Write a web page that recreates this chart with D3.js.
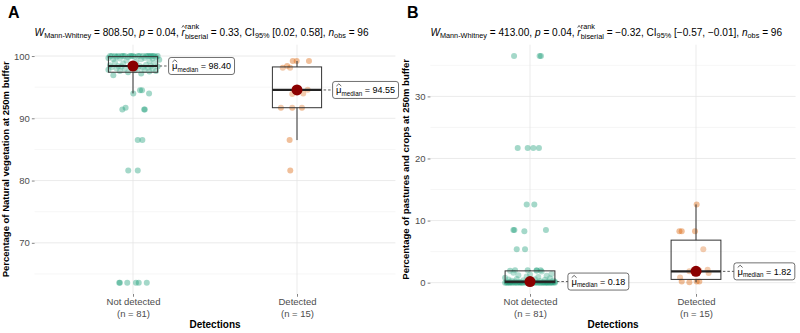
<!DOCTYPE html>
<html><head><meta charset="utf-8">
<script src="https://cdn.jsdelivr.net/npm/d3@7"></script>
<style>
body{margin:0;background:#fff}
text{font-family:"Liberation Sans",Arial,Helvetica,sans-serif;white-space:pre}
</style></head>
<body><svg id="c" width="800" height="333"></svg>
<script>
// ---------------- DATA ----------------
const categories = ["Not detected", "Detected"];
const groupCounts = [81, 15];
const yTicksA = [70, 80, 90, 100];
const yMinorA = [65, 75, 85, 95];
const yTicksB = [0, 10, 20, 30];
const yMinorB = [5, 15, 25, 35];

// Panel A: Percentage of Natural vegetation (Not detected)
const natNotDetected = [63.6,63.6,63.6,63.6,63.6,63.6,81.6,81.6,86.5,86.5,91.4,91.7,91.4,91.4,94.0,94.5,94.5,94.0,
 96.9,97.2,97.4,
 97.5,97.6,97.6,97.7,97.8,97.8,97.9,97.9,98.0,98.0,98.1,98.1,98.2,98.2,98.3,98.3,98.3,98.4,98.4,
 98.4,
 98.5,98.6,98.7,98.8,98.9,99.0,99.1,99.2,99.3,99.4,99.5,99.5,99.6,99.6,99.7,99.7,99.8,99.8,99.9,
 99.9,
 100,100,100,100,100,100,100,100,100,100,100,100,100,100,100,100,100,100,100,100];
const natNotDetectedJitter = [-0.084,-0.08,-0.035,0.018,0.035,0.084,-0.029,0.029,0.029,0.057,-0.065,-0.045,0.068,0.072,0.002,0.043,0.055,0.098,
 -0.12,0.05,-0.03,0.10,-0.08,0.14,0.01,-0.15,0.07,-0.05,
 0.12,-0.10,0.03,-0.01,0.09,-0.13,0.06,-0.07,0.15,-0.02,
 0.11,-0.09,0.04,-0.14,0.08,0.00,-0.06,0.13,-0.11,0.02,
 0.10,-0.04,0.16,-0.12,0.05,-0.08,0.12,-0.15,0.07,-0.03,
 0.14,-0.10,0.01,0.09,-0.06,0.11,-0.13,0.04,-0.01,0.15,
 -0.09,0.06,-0.05,0.13,-0.11,0.03,0.08,-0.14,0.00,-0.07,
 0.10,-0.02,0.12];
// Panel A: Detected
const natDetected = [81.6,86.5,91.7,91.7,91.7,93.9,94.0,94.6,94.55,98.1,98.4,98.1,99.2,99.2,99.2];
const natDetectedJitter = [-0.041,-0.045,-0.098,-0.029,0.03,-0.029,0.038,0.065,0.0,-0.087,-0.06,-0.042,-0.026,-0.002,0.073];

// Panel B: Percentage of pastures and crops (Not detected)
const pastNotDetected = [36.5,36.5,36.5,21.7,21.7,21.7,21.7,12.6,12.6,8.5,8.5,8.3,8.5,5.4,5.4,
 0,0,0,0,0,0,0,0,0,0,0,0,0,0,0,0,0,0,0,0,0,0,0,0,0,
 0.01,0.02,0.03,0.04,0.05,0.06,0.07,0.08,0.09,0.10,0.12,0.13,0.14,0.15,0.17,
 0.18,
 0.2,0.25,0.3,0.35,0.4,0.45,0.5,0.55,0.6,0.7,0.8,0.9,1.0,1.1,1.2,1.3,1.4,1.6,1.8,
 1.9,1.9,2.0,2.0,2.0,2.0];
const pastNotDetectedJitter = [-0.096,0.058,0.066,-0.074,-0.014,0.02,0.054,-0.02,0.026,-0.10,-0.094,-0.034,0.096,-0.08,-0.03,
 0.08,-0.11,0.02,0.13,-0.06,-0.14,0.10,-0.02,0.05,-0.09,
 0.15,-0.12,0.00,0.07,-0.04,0.11,-0.15,0.03,-0.08,0.12,
 -0.01,0.09,-0.13,0.06,-0.05,0.14,-0.10,0.04,-0.07,0.01,
 0.13,-0.03,0.10,-0.12,0.08,-0.06,0.15,-0.14,0.02,-0.09,
 0.11,-0.01,0.06,-0.11,0.14,-0.04,0.09,-0.13,0.03,-0.08,
 0.12,-0.15,0.05,-0.02,0.10,-0.07,0.00,0.13,-0.10,0.07,
 -0.12,0.04,-0.09,-0.014,0.04,0.064];
// Panel B: Detected
const pastDetected = [12.6,8.3,8.3,8.3,5.4,2.1,1.82,1.56,1.95,1.7,0.85,0.2,0.2,0.2,0.05];
const pastDetectedJitter = [0.004,-0.10,-0.086,-0.006,0.044,0.07,-0.04,0.076,0.02,-0.01,-0.096,-0.086,0.004,0.02,-0.04];

const colors = ["#1B9E77", "#D95F02"];

// ---------------- DRAW ----------------
const svg = d3.select("#c");
const FONT_GRAY = "#4D4D4D";

function rich(g, x, y, segs, color) {
  let cx = x;
  segs.forEach(sg => {
    if (sg.stack) {
      let w = 0;
      sg.stack.forEach(st => {
        const t = g.append("text").attr("x", cx).attr("y", y + (st.dy || 0))
          .style("font-size", st.s + "px").attr("fill", color || "#000").text(st.t);
        w = Math.max(w, t.node().getComputedTextLength());
      });
      cx += w;
    } else {
      const t = g.append("text").attr("x", cx).attr("y", y + (sg.dy || 0))
        .style("font-size", sg.s + "px").style("font-style", sg.it ? "italic" : "normal")
        .attr("fill", color || "#000").text(sg.t);
      const w = t.node().getComputedTextLength();
      if (sg.hat) {
        const top = y + (sg.dy || 0) - sg.s * 0.78;
        g.append("path")
          .attr("d", `M${cx + 0.3},${top} L${cx + w / 2},${top - 2.2} L${cx + w - 0.3},${top}`)
          .attr("fill", "none").attr("stroke", color || "#000").attr("stroke-width", 0.6);
      }
      cx += w;
    }
  });
  return cx - x;
}

function subSegs(W, r, ci, n) {
  const M = 10.1, S = 7.3;
  return [
    {t: "W", s: M, it: true}, {t: "Mann-Whitney", s: S, dy: 2.8}, {t: " = " + W + ", ", s: M},
    {t: "p", s: M, it: true}, {t: " = 0.04, ", s: M},
    {t: "r", s: M, it: true, hat: true},
    {stack: [{t: "rank", s: S, dy: -6.3}, {t: "biserial", s: S, dy: 3.2}]},
    {t: " = " + r + ", CI", s: M}, {t: "95%", s: S, dy: 2.8}, {t: " [" + ci + "], ", s: M},
    {t: "n", s: M, it: true}, {t: "obs", s: S, dy: 2.8}, {t: " = " + n, s: M}
  ];
}

function panel(cfg) {
  const g = svg.append("g");
  const allVals = cfg.groups.flatMap(d => d.vals);
  const [lo, hi] = d3.extent(allVals);
  const pad = (hi - lo) * 0.05;
  const y = d3.scaleLinear().domain([lo - pad, hi + pad]).range([cfg.yBot, cfg.yTop]);
  const x = d3.scaleLinear().domain([0.4, 2.6]).range([cfg.x0, cfg.x1]);

  // grid
  g.selectAll(".minor").data(cfg.minor).join("line")
    .attr("x1", cfg.x0).attr("x2", cfg.x1).attr("y1", d => y(d)).attr("y2", d => y(d))
    .attr("stroke", "#F0F0F0").attr("stroke-width", 0.6);
  g.selectAll(".major").data(cfg.ticks).join("line")
    .attr("x1", cfg.x0).attr("x2", cfg.x1).attr("y1", d => y(d)).attr("y2", d => y(d))
    .attr("stroke", "#E6E6E6").attr("stroke-width", 0.8);
  g.selectAll(".vmajor").data([1, 2]).join("line")
    .attr("x1", d => x(d)).attr("x2", d => x(d)).attr("y1", cfg.yTop).attr("y2", cfg.yBot)
    .attr("stroke", "#E6E6E6").attr("stroke-width", 0.8);

  // axes
  const ya = g.append("g").attr("transform", `translate(${cfg.x0},0)`)
    .call(d3.axisLeft(y).tickValues(cfg.ticks).tickSize(2.75).tickPadding(2));
  ya.select(".domain").remove();
  ya.selectAll("line").attr("stroke", "#333").attr("stroke-width", 0.6);
  ya.selectAll("text").attr("fill", FONT_GRAY).style("font-size", "9.5px").style("font-family", null);

  const xa = g.append("g").attr("transform", `translate(0,${cfg.yBot})`)
    .call(d3.axisBottom(x).tickValues([1, 2]).tickSize(2.75).tickFormat(() => ""));
  xa.select(".domain").remove();
  xa.selectAll("line").attr("stroke", "#333").attr("stroke-width", 0.6);
  xa.selectAll(".tick").each(function (d, i) {
    const t = d3.select(this).append("text").attr("fill", FONT_GRAY).attr("text-anchor", "middle")
      .style("font-size", "9.5px");
    t.append("tspan").attr("x", 0).attr("y", 11).text(categories[i]);
    t.append("tspan").attr("x", 0).attr("y", 22.5).text(`(n = ${groupCounts[i]})`);
  });

  g.append("text").attr("x", (cfg.x0 + cfg.x1) / 2).attr("y", 328).attr("text-anchor", "middle")
    .style("font-size", "10px").style("font-weight", "bold").text("Detections");
  g.append("text").attr("transform", `translate(${cfg.ytx},${(cfg.yTop + cfg.yBot) / 2}) rotate(-90)`)
    .attr("text-anchor", "middle").style("font-size", "9.5px").style("font-weight", "bold").text(cfg.ytitle);

  // points
  cfg.groups.forEach((gr, gi) => {
    g.append("g").selectAll("circle").data(gr.vals).join("circle")
      .attr("cx", (d, i) => x(gi + 1 + gr.jit[i]))
      .attr("cy", d => y(d)).attr("r", 3)
      .attr("fill", colors[gi]).attr("fill-opacity", 0.4);
  });

  // boxplots
  cfg.groups.forEach((gr, gi) => {
    const s = gr.vals.slice().sort(d3.ascending);
    const q1 = d3.quantileSorted(s, 0.25), med = d3.quantileSorted(s, 0.5), q3 = d3.quantileSorted(s, 0.75);
    const iqr = q3 - q1;
    const wlo = d3.min(s.filter(v => v >= q1 - 1.5 * iqr));
    const whi = d3.max(s.filter(v => v <= q3 + 1.5 * iqr));
    const xl = x(gi + 1 - 0.15), xr = x(gi + 1 + 0.15), xc = x(gi + 1);
    const bg = g.append("g");
    bg.append("line").attr("x1", xc).attr("x2", xc).attr("y1", y(q3)).attr("y2", y(whi)).attr("stroke", "#333").attr("stroke-width", 1);
    bg.append("line").attr("x1", xc).attr("x2", xc).attr("y1", y(q1)).attr("y2", y(wlo)).attr("stroke", "#333").attr("stroke-width", 1);
    bg.append("rect").attr("x", xl).attr("y", y(q3)).attr("width", xr - xl).attr("height", y(q1) - y(q3))
      .attr("fill", "#fff").attr("fill-opacity", 0.2).attr("stroke", "#333").attr("stroke-width", 1);
    bg.append("line").attr("x1", xl).attr("x2", xr).attr("y1", y(med)).attr("y2", y(med)).attr("stroke", "#222").attr("stroke-width", 2.2);

    // centrality
    g.append("circle").attr("cx", xc).attr("cy", y(med)).attr("r", 5.5).attr("fill", "#8B0000");

    // label
    const lx = xr + 11 + (cfg.lblGap || 0);
    const ly = y(med);
    g.append("line").attr("x1", xr + 2).attr("x2", lx).attr("y1", ly).attr("y2", ly)
      .attr("stroke", "#333").attr("stroke-width", 0.8).attr("stroke-dasharray", "2.5,2");
    const lg = g.append("g");
    const rect = lg.append("rect");
    const w = rich(lg, lx + 3.5, ly + 3.5, [
      {t: "\u03BC", s: 9.5, hat: true}, {t: "median", s: 6.3, dy: 2.3}, {t: " = " + d3.format(".2f")(med), s: 9}
    ], "#000");
    rect.attr("x", lx).attr("y", ly - 8.5).attr("width", w + 7).attr("height", 17)
      .attr("rx", 2.5).attr("fill", "#fff").attr("stroke", "#333").attr("stroke-width", 0.7);
  });

  // titles
  g.append("text").attr("x", cfg.tagX).attr("y", 18).style("font-size", "16px").style("font-weight", "bold").text(cfg.tag);
  rich(g, cfg.x0, 35.5, cfg.sub);
}

panel({
  x0: 34.6, x1: 395.4, yTop: 44.7, yBot: 294, ytx: 9,
  ticks: yTicksA, minor: yMinorA,
  groups: [{vals: natNotDetected, jit: natNotDetectedJitter}, {vals: natDetected, jit: natDetectedJitter}],
  ytitle: "Percentage of Natural vegetation at 250m buffer",
  tag: "A", tagX: 8,
  sub: subSegs("808.50", "0.33", "0.02, 0.58", "96")
});
panel({
  x0: 430.4, x1: 795.6, yTop: 44.7, yBot: 294, ytx: 409,
  ticks: yTicksB, minor: yMinorB, lblGap: 2,
  groups: [{vals: pastNotDetected, jit: pastNotDetectedJitter}, {vals: pastDetected, jit: pastDetectedJitter}],
  ytitle: "Percentage of pastures and crops at 250m buffer",
  tag: "B", tagX: 407,
  sub: subSegs("413.00", "\u22120.32", "\u22120.57, \u22120.01", "96")
});
</script></body></html>
